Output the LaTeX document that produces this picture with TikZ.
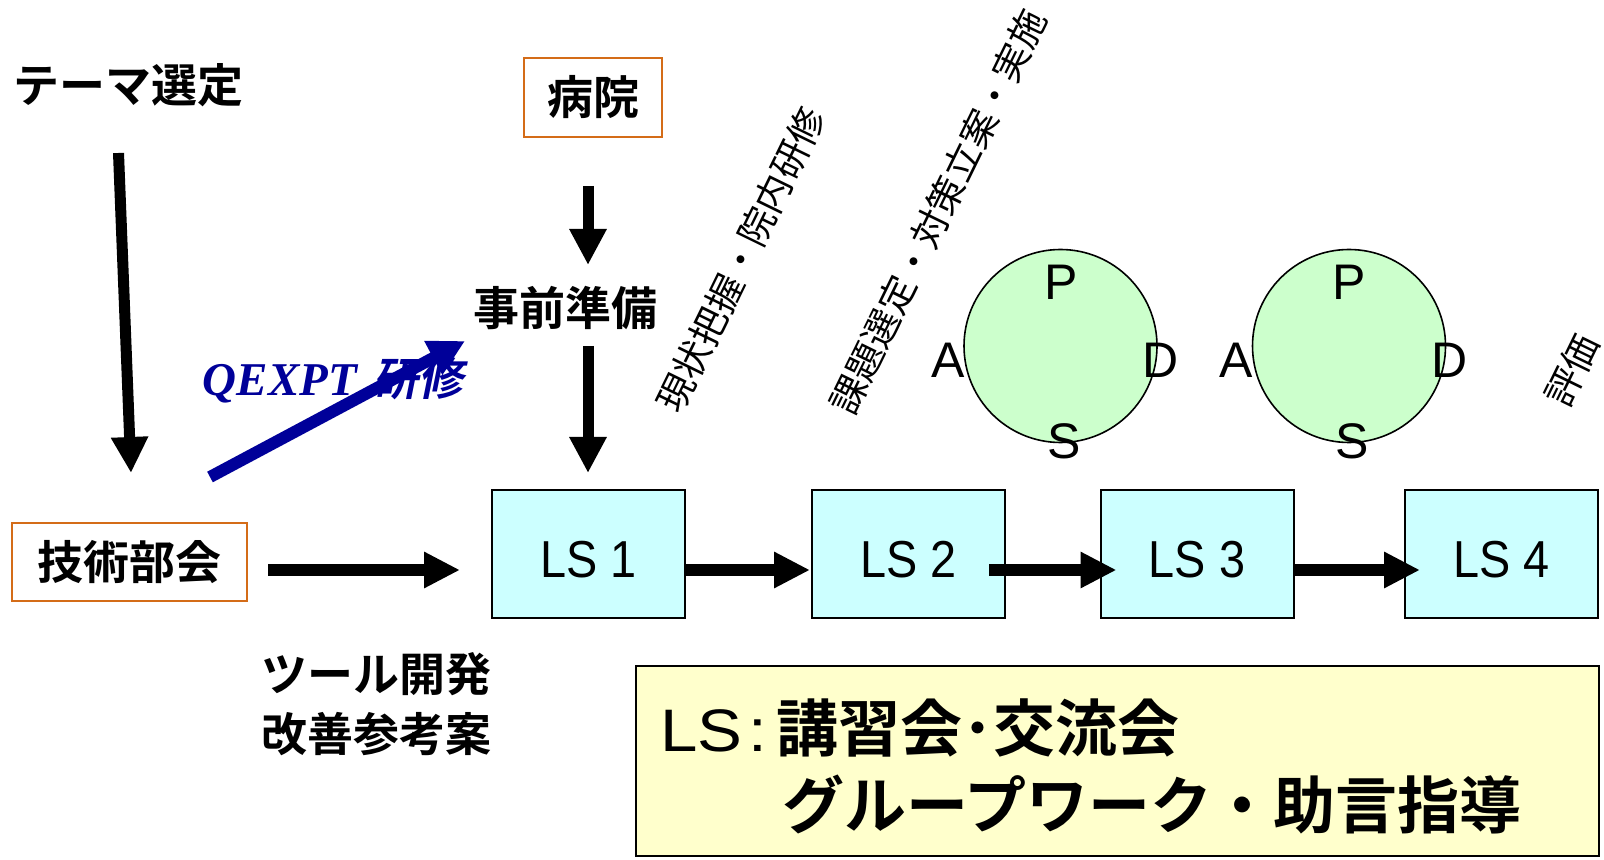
\documentclass[tikz,border=0pt]{standalone}
\usepackage{fontspec}
\usetikzlibrary{arrows.meta,calc}
\newfontfamily\jpb{Noto Sans CJK JP Bold}
\newfontfamily\jpr{Noto Sans CJK JP}
\newfontfamily\jpbi{Noto Sans CJK JP Bold}[FakeSlant=0.2]
\newfontfamily\lsf{Liberation Sans}[FakeStretch=0.9]
\newfontfamily\lsw{Liberation Sans}
\newfontfamily\lswide{Liberation Sans}[FakeStretch=1.12]
\newfontfamily\qexf{Liberation Serif}
\newcommand{\fsz}[1]{\fontsize{#1pt}{#1pt}\selectfont}
\definecolor{obord}{RGB}{212,108,24}
\definecolor{lscyan}{RGB}{204,255,255}
\definecolor{pdgreen}{RGB}{204,255,204}
\definecolor{lyellow}{RGB}{255,255,204}
\definecolor{qblue}{RGB}{0,0,153}
\tikzset{
  every node/.style={inner sep=0pt, outer sep=0pt},
  jlabel/.style={font=\jpb\fsz{23}},
  obox/.style={draw=obord, line width=1pt, fill=white, font=\jpb\fsz{23}},
  lsbox/.style={draw=black, line width=1pt, fill=lscyan, minimum width=96.5pt,
    minimum height=64pt, font=\lsf\fsz{26}, text height=23.1pt, text depth=0pt},
  pdcircle/.style={circle, draw=black, line width=0.8pt, fill=pdgreen, minimum size=96.5pt},
  pdsa/.style={font=\lsw\fsz{25}},
  rtext/.style={font=\jpr\fsz{18.5}, rotate=64},
  legendbox/.style={draw=black, line width=1pt, fill=lyellow, minimum width=481.5pt, minimum height=95pt},
  legendtext/.style={anchor=west, font=\jpb\fsz{31}},
  varrow/.style={line width=5.5pt, -{Triangle[length=18pt,width=17.5pt]}},
  harrow/.style={line width=6pt, -{Triangle[length=18pt,width=17pt]}},
  qarrow/.style={color=qblue, line width=6pt, -{Triangle[length=18pt,width=18pt]}},
}
\begin{document}
\begin{tikzpicture}[x=0.5pt, y=-0.5pt]
\useasboundingbox (0,0) rectangle (1604,860);
\fill[white] (0,0) rectangle (1604,860);

% top-left labels
\node[jlabel] (theme) at (128,85) {テーマ選定};
\node[obox, minimum width=69pt, minimum height=39.5pt] (hosp) at (593,97.5) {病院};
\node[jlabel] (prep) at (565,308) {事前準備};
\node[obox, minimum width=117.5pt, minimum height=39pt] (bukai) at (129.5,562) {技術部会};
\node[jlabel, anchor=west] (tool) at (261,674) {ツール開発};
\node[jlabel, anchor=west] (kaizen) at (261,734) {改善参考案};

% LS boxes
\node[lsbox] (LS1) at (588.5,554) {LS 1};
\node[lsbox] (LS2) at (908.5,554) {LS 2};
\node[lsbox] (LS3) at (1197,554) {LS 3};
\node[lsbox] (LS4) at (1501.5,554) {LS 4};

% PDSA circles
\node[pdcircle] (C1) at (1060.5,346) {};
\node[pdcircle] (C2) at (1349,346) {};
\foreach \c in {C1,C2}{
  \node[pdsa] (\c P) at ($(\c.center)+(0.5,-64)$) {P};
  \node[pdsa] (\c A) at ($(\c.center)+(-112.5,14)$) {A};
  \node[pdsa] (\c D) at ($(\c.center)+(100.5,14)$) {D};
  \node[pdsa] (\c S) at ($(\c.center)+(3.5,95)$) {S};
}

% rotated texts
\node[rtext] (r1) at (741,260) {現状把握・院内研修};
\node[rtext] (r2) at (938,212) {課題選定・対策立案・実施};
\node[rtext] (r3) at (1572,370) {評価};

% QEXPT label
\node[text=qblue] (qex) at (333,380) {{\qexf\bfseries\itshape\fsz{23.5}QEXPT}\hspace{8pt}{\jpbi\fsz{22.5}研修}};

% legend
\node[legendbox] (legend) at (1117.5,761) {};
\node[legendtext] (leg1) at (660,728) {{\lswide\fsz{30}LS\hspace{3pt}:}\hspace{5pt}講習会･交流会};
\node[legendtext] (leg2) at (782,804) {グループワーク・助言指導};

% arrows
\draw[varrow] ($(theme.center)+(-9.5,68)$) -- ($(bukai.center)+(1.5,-89)$);
\draw[varrow] ($(hosp.center)+(-5,88.5)$) -- ($(prep.center)+(23,-43)$);
\draw[varrow] ($(prep.center)+(23,38)$) -- ($(LS1.center)+(-0.5,-81)$);
\draw[qarrow] ($(bukai.center)+(80.5,-85)$) -- ($(prep.center)+(-100,33)$);
\draw[harrow] ($(bukai.east)+(21,8)$) -- ($(LS1.west)+(-32,16)$);
\draw[harrow] ($(LS1.east)+(0,16)$) -- ($(LS2.west)+(-2,16)$);
\draw[harrow] ($(LS2.east)+(-16,16)$) -- ($(LS3.west)+(16,16)$);
\draw[harrow] ($(LS3.east)+(0,16)$) -- ($(LS4.west)+(15,16)$);
\end{tikzpicture}
\end{document}
